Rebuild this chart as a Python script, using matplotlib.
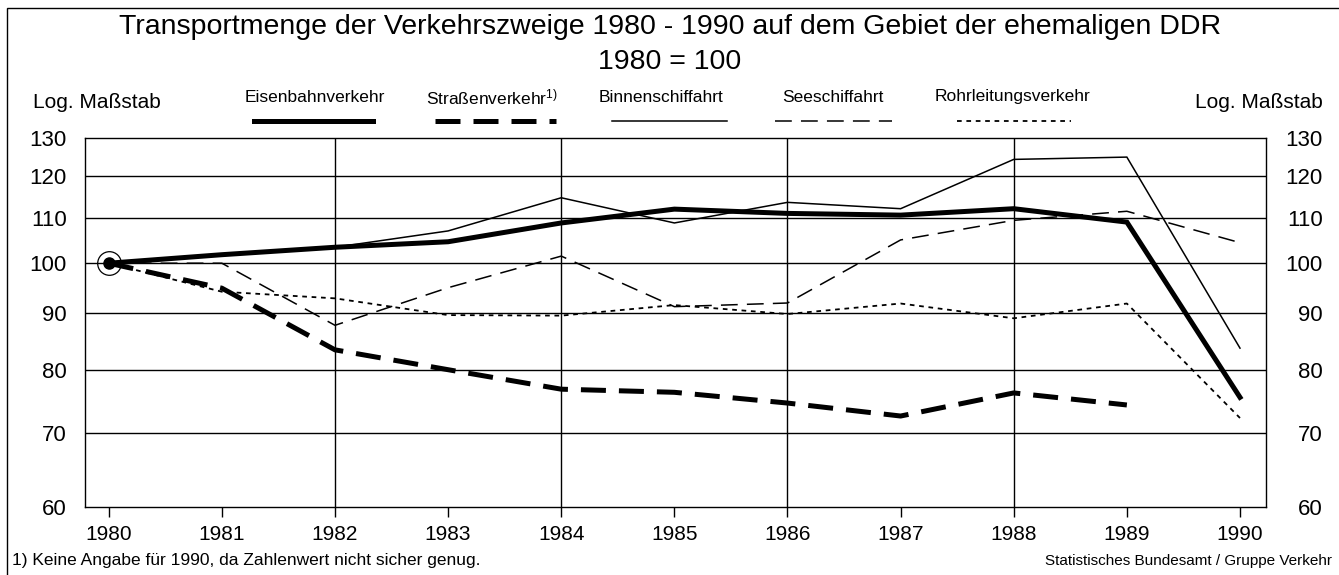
import numpy as np
import matplotlib
from matplotlib import pyplot as plt
from matplotlib.lines import Line2D
from matplotlib.patches import Rectangle

matplotlib.use("Agg")

plt.rcParams['font.family'] = ['Liberation Sans', 'DejaVu Sans']
plt.rcParams['mathtext.default'] = 'regular'

years = [1980, 1981, 1982, 1983, 1984, 1985, 1986, 1987, 1988, 1989, 1990]
eisenbahn = [100, 101.8, 103.4, 104.6, 108.8, 112.0, 111.0, 110.6, 112.1, 109.0, 75.5]
strasse = [100, 94.9, 83.4, 80.0, 76.8, 76.3, 74.6, 72.6, 76.2, 74.3, np.nan]
binnen = [100, 101.7, 103.4, 107.0, 114.7, 108.8, 113.6, 112.1, 124.3, 124.9, 83.7]
see = [100, 100, 87.8, 95.0, 101.5, 91.3, 92.0, 105.0, 109.4, 111.5, 104.4]
rohr = [100, 94.2, 92.9, 89.7, 89.6, 91.6, 89.9, 91.9, 89.1, 91.9, 72.3]

yticks = [60, 70, 80, 90, 100, 110, 120, 130]
vgrid = [1982, 1984, 1986, 1988]

W, H = 1339, 575
fig = plt.figure(figsize=(W / 100, H / 100), dpi=100)
ax = fig.add_axes([85 / W, 1 - 507 / H, (1266 - 85) / W, (507 - 138) / H])

# Linienstile
styles = {
    'Eisenbahnverkehr': dict(lw=3.6, ls='-'),
    'Straßenverkehr': dict(lw=3.6, ls=(0, (5, 2.6))),
    'Binnenschiffahrt': dict(lw=1.1, ls='-'),
    'Seeschiffahrt': dict(lw=1.1, ls=(0, (11, 6))),
    'Rohrleitungsverkehr': dict(lw=1.3, ls=(0, (2.6, 2.6))),
}

ax.plot(years, binnen, c='black', solid_joinstyle='miter', **styles['Binnenschiffahrt'])
ax.plot(years, see, c='black', **styles['Seeschiffahrt'])
ax.plot(years, rohr, c='black', **styles['Rohrleitungsverkehr'])
ax.plot(years, strasse, c='black', **styles['Straßenverkehr'])
ax.plot(years, eisenbahn, c='black', solid_joinstyle='miter', **styles['Eisenbahnverkehr'])

# Basisjahr 1980 = 100
ax.plot(years[0], eisenbahn[0], 'o', ms=8, c='black', zorder=5)
ax.plot(years[0], eisenbahn[0], 'o', ms=17, mfc='none', mec='black', mew=0.9, zorder=5)

ax.set_yscale('log')
ax.set_ylim(60, 130)
ax.set_xlim(1979.79, 1990.23)
ax.set_yticks(yticks)
ax.set_yticklabels([str(t) for t in yticks])
ax.yaxis.set_minor_locator(matplotlib.ticker.NullLocator())
ax.set_xticks(years)
ax.set_xticklabels([str(y) for y in years])

for t in yticks[1:-1]:
    ax.axhline(t, c='black', lw=1.0, zorder=1)
for y in vgrid:
    ax.axvline(y, c='black', lw=1.0, zorder=1)

for s in ax.spines.values():
    s.set_linewidth(1.0)

ax.tick_params(axis='x', direction='out', length=7, width=1, pad=6, labelsize=15)
ax.tick_params(axis='y', length=0, labelsize=16, pad=13, left=True, right=True,
               labelleft=True, labelright=True)
# rechte Beschriftung ebenfalls rechtsbündig
trans = matplotlib.transforms.offset_copy(ax.get_yaxis_transform(), fig=fig, x=41, y=0, units='points')
for t in ax.yaxis.get_major_ticks():
    t.label2.set_horizontalalignment('right')
    t.label2.set_transform(trans)

# Titel
fig.text(670 / W, 1 - 27 / H, 'Transportmenge der Verkehrszweige 1980 - 1990 auf dem Gebiet der ehemaligen DDR',
         ha='center', va='center', fontsize=20.5)
fig.text(670 / W, 1 - 62 / H, '1980 = 100', ha='center', va='center', fontsize=20.5)

fig.text(33 / W, 1 - 102 / H, 'Log. Maßstab', ha='left', va='center', fontsize=15)
fig.text(1323 / W, 1 - 102 / H, 'Log. Maßstab', ha='right', va='center', fontsize=15)

# Legende: Text oben, Linie darunter
legend_items = [
    ('Eisenbahnverkehr', 'Eisenbahnverkehr', 315, 254, 373),
    ('Straßenverkehr$^{1)}$', 'Straßenverkehr', 492, 435, 556),
    ('Binnenschiffahrt', 'Binnenschiffahrt', 661, 612, 727),
    ('Seeschiffahrt', 'Seeschiffahrt', 833, 775, 892),
    ('Rohrleitungsverkehr', 'Rohrleitungsverkehr', 1013, 957, 1071),
]
for label, key, cx, x0, x1 in legend_items:
    fig.text(cx / W, 1 - 97 / H, label, ha='center', va='center', fontsize=12.5)
    fig.add_artist(Line2D([x0 / W, x1 / W], [1 - 121 / H, 1 - 121 / H], c='black',
                          transform=fig.transFigure, **styles[key]))

fig.text(12 / W, 1 - 561 / H, '1) Keine Angabe für 1990, da Zahlenwert nicht sicher genug.',
         ha='left', va='center', fontsize=12.5)
fig.text(1332 / W, 1 - 561 / H, 'Statistisches Bundesamt / Gruppe Verkehr',
         ha='right', va='center', fontsize=11)

# Rahmen
fig.add_artist(Rectangle((7 / W, -0.05), 1.0, 1 - 8 / H + 0.05, transform=fig.transFigure,
                         fill=False, ec='black', lw=1.0))

plt.savefig("out.png", dpi=100)
